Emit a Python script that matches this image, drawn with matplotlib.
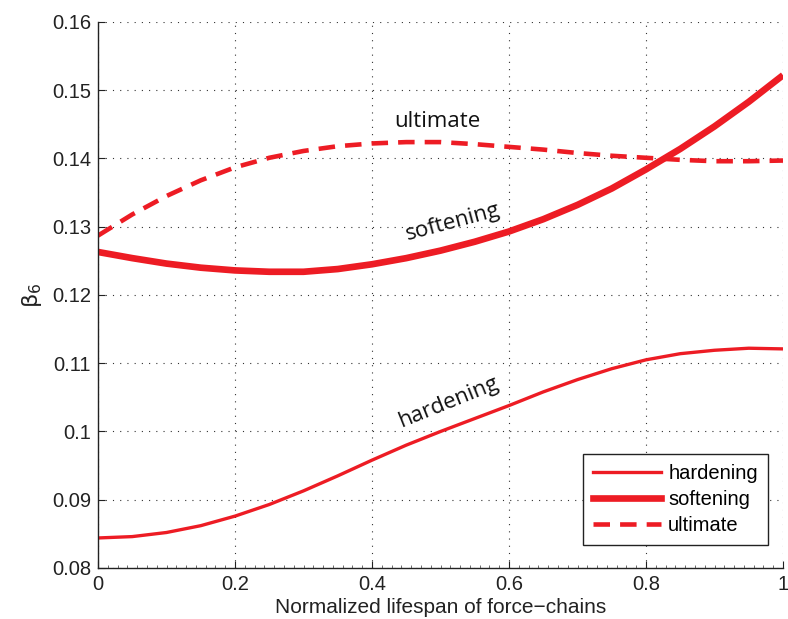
import matplotlib
matplotlib.use("Agg")
import matplotlib.pyplot as plt
from matplotlib.ticker import MultipleLocator
from matplotlib.lines import Line2D

x = [0.0, 0.05, 0.1, 0.15, 0.2, 0.25, 0.3, 0.35, 0.4, 0.45, 0.5,
     0.55, 0.6, 0.65, 0.7, 0.75, 0.8, 0.85, 0.9, 0.95, 1.0]
hardening = [0.0844, 0.0846, 0.0852, 0.0862, 0.0876, 0.0893, 0.0913, 0.0935,
             0.0958, 0.0980, 0.1000, 0.1019, 0.1038, 0.1058, 0.1076, 0.1092,
             0.1105, 0.1114, 0.1119, 0.1122, 0.1121]
softening = [0.1263, 0.1254, 0.1246, 0.1240, 0.1236, 0.1234, 0.1234, 0.1238,
             0.1245, 0.1254, 0.1265, 0.1278, 0.1293, 0.1311, 0.1332, 0.1356,
             0.1384, 0.1414, 0.1447, 0.1483, 0.1522]
ultimate = [0.1287, 0.1318, 0.1345, 0.1368, 0.1387, 0.1401, 0.1411, 0.1418,
            0.1422, 0.1424, 0.1424, 0.1421, 0.1417, 0.1413, 0.1408, 0.1404,
            0.1401, 0.1398, 0.1396, 0.1396, 0.1397]
xticks = [0, 0.2, 0.4, 0.6, 0.8, 1]
xticklabels = ["0", "0.2", "0.4", "0.6", "0.8", "1"]
yticks = [0.08, 0.09, 0.10, 0.11, 0.12, 0.13, 0.14, 0.15, 0.16]
yticklabels = ["0.08", "0.09", "0.1", "0.11", "0.12", "0.13", "0.14", "0.15", "0.16"]

red = "#ED1C24"
plt.rcParams['font.family'] = ['Liberation Sans', 'DejaVu Sans']

fig = plt.figure(figsize=(7.88, 6.19), dpi=100)
ax = fig.add_axes([98 / 788, 0.0824, 685 / 788, 0.8821])

ax.plot(x, hardening, color=red, lw=2.4, solid_capstyle='butt')
ax.plot(x, softening, color=red, lw=4.8, solid_capstyle='butt')
ax.plot(x, ultimate, color=red, lw=3.3, dashes=(3.6, 2.2))

ax.set_xlim(0, 1)
ax.set_ylim(0.08, 0.16)
ax.set_xticks(xticks)
ax.set_xticklabels(xticklabels)
ax.set_yticks(yticks)
ax.set_yticklabels(yticklabels)
ax.xaxis.set_minor_locator(MultipleLocator(0.2 / 14))
ax.tick_params(axis='both', which='major', direction='in', length=5, width=0.8,
               labelsize=14.5, colors='#222222', pad=5)
ax.tick_params(axis='x', which='minor', direction='in', length=2.5, width=0.6,
               colors='#555555')
ax.tick_params(axis='y', which='minor', left=False)
for s in ['top', 'right']:
    ax.spines[s].set_visible(False)
for s in ['left', 'bottom']:
    ax.spines[s].set_linewidth(1.0)
    ax.spines[s].set_color('#222222')

ax.grid(True, which='major', color='#333333', linestyle=(0, (1, 5.5)), linewidth=0.8)
ax.set_axisbelow(True)

ax.set_xlabel("Normalized lifespan of force\u2212chains", fontsize=15, color='#222222', labelpad=3)
ax.set_ylabel(r"$\mathrm{\beta}_6$", fontsize=16, color='#222222', labelpad=6)

af = ['Open Sans', 'DejaVu Sans']
ax.text(0.495, 0.1454, "ultimate", family=af, fontsize=16, ha='center', va='center', color='#111111')
ax.text(0.518, 0.1307, "softening", family=af, fontsize=16, ha='center', va='center',
        rotation=15, rotation_mode='anchor', color='#111111')
ax.text(0.512, 0.1043, "hardening", family=af, fontsize=16, ha='center', va='center',
        rotation=22, rotation_mode='anchor', color='#111111')

handles = [Line2D([], [], color=red, lw=2.4),
           Line2D([], [], color=red, lw=4.8),
           Line2D([], [], color=red, lw=3.3, dashes=(3.6, 2.2))]
leg = ax.legend(handles, ["hardening", "softening", "ultimate"], loc='lower right',
                bbox_to_anchor=(0.978, 0.042), fontsize=14.5, frameon=True, fancybox=False,
                handlelength=3.4, handletextpad=0.35, borderpad=0.5, labelspacing=0.35,
                borderaxespad=0)
leg.get_frame().set_edgecolor('#222222')
leg.get_frame().set_linewidth(1.0)
leg.get_frame().set_alpha(1)

fig.savefig("out.png", dpi=100)
